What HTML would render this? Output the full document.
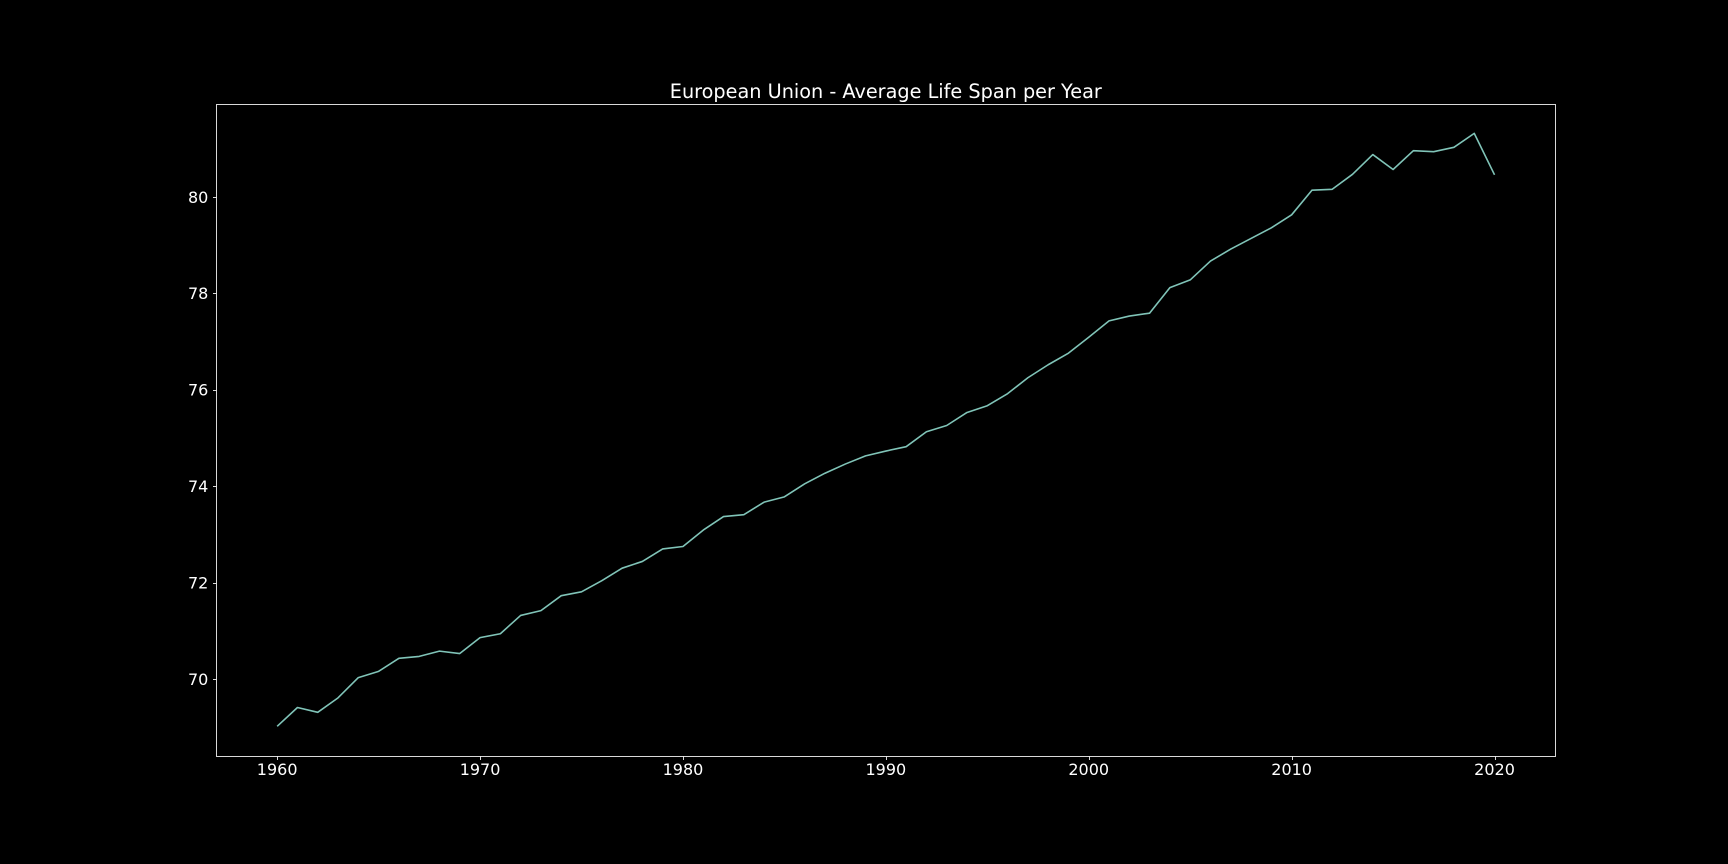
<!DOCTYPE html>
<html lang="en">
<head>
<meta charset="utf-8">
<title>European Union - Average Life Span per Year</title>
<style>
html,body{margin:0;padding:0;background:#000;width:1728px;height:864px;overflow:hidden}
svg{display:block}
text{font-family:"DejaVu Sans","Liberation Sans",sans-serif;fill:#fff}
</style>
</head>
<body>
<svg id="chart" xmlns="http://www.w3.org/2000/svg" width="1728" height="864" viewBox="0 0 1728 864">
<rect x="0" y="0" width="1728" height="864" fill="#000"/>
<text x="885.8" y="98" text-anchor="middle" font-size="19.25">European Union - Average Life Span per Year</text>
<g id="marks"></g>
<rect x="216.5" y="104.5" width="1339" height="652" fill="none" stroke="#fff" stroke-width="1" stroke-opacity="0.85"/>
<g id="ticks"></g>
</svg>
<script>
const years = [1960,1961,1962,1963,1964,1965,1966,1967,1968,1969,1970,1971,1972,1973,1974,1975,1976,1977,1978,1979,1980,1981,1982,1983,1984,1985,1986,1987,1988,1989,1990,1991,1992,1993,1994,1995,1996,1997,1998,1999,2000,2001,2002,2003,2004,2005,2006,2007,2008,2009,2010,2011,2012,2013,2014,2015,2016,2017,2018,2019,2020];
const lifeSpan = [69.03,69.42,69.32,69.62,70.04,70.17,70.44,70.48,70.59,70.54,70.87,70.95,71.33,71.43,71.74,71.82,72.05,72.31,72.45,72.71,72.76,73.10,73.38,73.42,73.68,73.79,74.06,74.28,74.47,74.64,74.74,74.83,75.14,75.27,75.54,75.68,75.93,76.26,76.53,76.77,77.10,77.44,77.54,77.60,78.13,78.29,78.68,78.93,79.15,79.37,79.64,80.15,80.17,80.48,80.89,80.58,80.97,80.95,81.04,81.33,80.47];
const xTickLabels = [1960,1970,1980,1990,2000,2010,2020];
const yTickLabels = [70,72,74,76,78,80];

const NS = 'http://www.w3.org/2000/svg';
const plot = {left:216.3, right:1555.4, top:103.7, bottom:756.2};
const xDomain = [1957, 2023];
const yDomain = [68.41, 81.945];
function xScale(v){ return plot.left + (v - xDomain[0]) / (xDomain[1] - xDomain[0]) * (plot.right - plot.left); }
function yScale(v){ return plot.bottom - (v - yDomain[0]) / (yDomain[1] - yDomain[0]) * (plot.bottom - plot.top); }

const marks = document.getElementById('marks');
const ticks = document.getElementById('ticks');

const line = document.createElementNS(NS, 'polyline');


line.setAttribute('fill', 'none');
line.setAttribute('stroke', '#80c4b8');
line.setAttribute('stroke-width', '1.6');
line.setAttribute('stroke-linejoin', 'round');
line.setAttribute('points', years.map((y, i) => xScale(y).toFixed(2) + ',' + yScale(lifeSpan[i]).toFixed(2)).join(' '));
marks.appendChild(line);

xTickLabels.forEach(function(v){
  const px = Math.round(xScale(v)) + 0.5;
  const t = document.createElementNS(NS, 'line');
  
  
  t.setAttribute('x1', px); t.setAttribute('x2', px);
  t.setAttribute('y1', 756.5); t.setAttribute('y2', 760);
  t.setAttribute('stroke', '#fff');
  t.setAttribute('stroke-opacity', '0.85');
  ticks.appendChild(t);
  const l = document.createElementNS(NS, 'text');
  
  
  l.setAttribute('x', xScale(v));
  l.setAttribute('y', 775);
  l.setAttribute('text-anchor', 'middle');
  l.setAttribute('font-size', '16');
  l.textContent = v;
  ticks.appendChild(l);
});

yTickLabels.forEach(function(v){
  const py = Math.round(yScale(v) - 0.5) + 0.5;
  const t = document.createElementNS(NS, 'line');
  
  
  t.setAttribute('x1', 213); t.setAttribute('x2', 216.5);
  t.setAttribute('y1', py); t.setAttribute('y2', py);
  t.setAttribute('stroke', '#fff');
  t.setAttribute('stroke-opacity', '0.85');
  ticks.appendChild(t);
  const l = document.createElementNS(NS, 'text');
  
  
  l.setAttribute('x', 208.3);
  l.setAttribute('y', yScale(v) + 5.3);
  l.setAttribute('text-anchor', 'end');
  l.setAttribute('font-size', '16');
  l.textContent = v;
  ticks.appendChild(l);
});
</script>
</body>
</html>
